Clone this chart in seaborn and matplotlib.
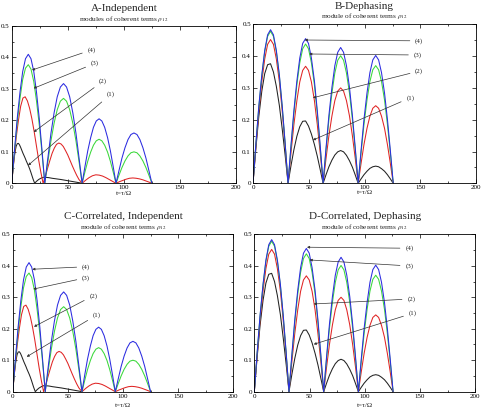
import numpy as np
import pandas as pd
import seaborn as sns
import matplotlib
matplotlib.use("Agg")
import matplotlib.pyplot as plt
from matplotlib.ticker import MultipleLocator, FuncFormatter

# ---------------- data ----------------
# Independent case (panels A and C)
t_ind = [0, 2.5, 4.9, 7.4, 9.8, 12.3, 14.8, 17.2, 19.7, 22.1, 24.6, 27.0, 29.5,
         32.3, 35.0, 37.8, 40.6, 43.4, 46.2, 48.9, 51.7, 54.5, 57.3, 60.0, 62.8,
         65.3, 67.8, 70.4, 72.9, 75.4, 77.9, 80.4, 82.9, 85.5, 88.0, 90.5, 93.0,
         95.7, 98.3, 101.0, 103.7, 106.3, 109.0, 111.7, 114.3, 117.0, 119.7, 122.3, 125.0]
ind_4 = [0, .106, .205, .29, .355, .396, .41, .396, .355, .29, .205, .106, 0,
         .082, .159, .224, .275, .306, .317, .306, .275, .224, .159, .082, 0,
         .053, .103, .145, .178, .198, .205, .198, .178, .145, .103, .053, 0,
         .041, .08, .113, .139, .155, .16, .155, .139, .113, .08, .041, 0]
ind_3 = [0, .1, .192, .27, .33, .366, .377, .363, .323, .262, .185, .097, 0,
         .070, .135, .191, .234, .261, .27, .261, .234, .191, .135, .070, 0,
         .036, .07, .099, .121, .135, .14, .135, .121, .099, .07, .036, 0,
         .026, .05, .071, .087, .097, .10, .097, .087, .071, .05, .026, 0]
t_ind_2 = [0, 2, 4, 6, 8, 10, 12, 14, 16, 18, 20, 22, 24, 26, 28,
           30, 32, 34, 36, 38, 40, 42, 44, 46, 48, 50, 52, 54, 56, 58, 60, 62.8,
           66, 69, 72, 75, 78, 81, 84, 87, 90, 93,
           96, 99, 102, 105, 108, 111, 114, 117, 120, 123, 125]
ind_2 = [0, .075, .145, .2, .245, .271, .275, .262, .238, .205, .165, .12, .075, .035, 0,
         .022, .048, .072, .095, .112, .124, .128, .125, .117, .104, .09, .073, .056, .04, .025, .012, 0,
         .01, .018, .024, .027, .026, .023, .018, .012, .006, 0,
         .005, .009, .013, .016, .017, .016, .014, .011, .007, .003, 0]
t_ind_1 = [0, 1, 2, 3, 4, 5, 6, 7, 8, 9, 10, 11, 12, 13, 14, 15, 16, 17, 18, 19, 20.5,
           22, 24, 26, 28, 30, 33, 36, 40, 44, 48, 52, 56, 60, 62.8]
ind_1 = [0, .04, .075, .1, .118, .126, .127, .122, .114, .105, .096, .088, .08, .071, .063,
         .055, .046, .036, .025, .014, 0,
         .006, .012, .016, .019, .019, .018, .016, .014, .012, .0095, .007, .0045, .002, 0]

# Dephasing case (panels B and D)
t_deph = [0, 2.6, 5.2, 7.9, 10.5, 13.1, 15.7, 18.3, 20.9, 23.6, 26.2, 28.8, 31.4,
          34.0, 36.6, 39.3, 41.9, 44.5, 47.1, 49.7, 52.3, 55.0, 57.6, 60.2, 62.8,
          65.4, 68.0, 70.7, 73.3, 75.9, 78.5, 81.1, 83.7, 86.4, 89.0, 91.6, 94.2,
          96.8, 99.4, 102.1, 104.7, 107.3, 109.9, 112.5, 115.1, 117.8, 120.4, 123.0, 125.6]
deph_4 = [0, .125, .242, .341, .418, .467, .483, .467, .418, .341, .242, .125, 0,
          .118, .228, .322, .394, .440, .455, .440, .394, .322, .228, .118, 0,
          .111, .214, .302, .370, .412, .427, .412, .370, .302, .214, .111, 0,
          .104, .201, .284, .348, .388, .402, .388, .348, .284, .201, .104, 0]
deph_3 = [0, .124, .239, .338, .414, .462, .478, .462, .414, .338, .239, .124, 0,
          .113, .219, .310, .379, .423, .438, .423, .379, .310, .219, .113, 0,
          .104, .201, .284, .347, .387, .401, .387, .347, .284, .201, .104, 0,
          .096, .185, .262, .320, .357, .370, .357, .320, .262, .185, .096, 0]
deph_2 = [0, .117, .226, .320, .391, .437, .452, .437, .391, .320, .226, .117, 0,
          .095, .184, .260, .319, .355, .368, .355, .319, .260, .184, .095, 0,
          .078, .150, .212, .260, .290, .300, .290, .260, .212, .150, .078, 0,
          .063, .122, .173, .211, .236, .244, .236, .211, .173, .122, .063, 0]
deph_1 = [0, .11, .21, .29, .345, .373, .376, .35, .305, .245, .17, .088, 0,
          .055, .105, .148, .178, .195, .196, .18, .155, .122, .085, .043, 0,
          .027, .052, .073, .089, .099, .103, .099, .088, .071, .051, .026, 0,
          .014, .027, .038, .047, .052, .054, .052, .046, .038, .027, .014, 0]

titles = ["A-Independent", "B-Dephasing", "C-Correlated, Independent", "D-Correlated, Dephasing"]
subtitles = ["modules of coherent terms $\\rho_{12}$", "module of coherent terms $\\rho_{12}$",
             "module of coherent terms $\\rho_{12}$", "module of coherent terms $\\rho_{12}$"]
curve_labels = ["(1)", "(2)", "(3)", "(4)"]
xlabel = "t=τ/Ω"
xticks = [0, 50, 100, 150, 200]
yticks = [0, 0.1, 0.2, 0.3, 0.4, 0.5]

# label text positions and arrow targets for curves (1)..(4), per panel
ann_text = [
    [(88.1, 0.2825), (81.5, 0.325), (74.1, 0.381), (71.2, 0.424)],
    [(140.9, 0.269), (148.9, 0.353), (147.5, 0.4035), (148.9, 0.448)],
    [(76.2, 0.2437), (73.1, 0.305), (66.5, 0.362), (66.5, 0.397)],
    [(143.3, 0.249), (142.1, 0.2946), (140.3, 0.3994), (140.3, 0.4557)],
]
ann_tip = [
    [(14.6, 0.057), (19.6, 0.163), (19.6, 0.302), (18.1, 0.36)],
    [(53.7, 0.136), (53.7, 0.269), (50.4, 0.4066), (46.3, 0.4506)],
    [(12.7, 0.111), (19.3, 0.2065), (18.7, 0.326), (17.8, 0.389)],
    [(53.8, 0.1506), (53.8, 0.2787), (50.1, 0.4185), (47.7, 0.459)],
]

# ---------------- build tables ----------------
def make_df(series):
    rows = []
    for name, (t, y) in series.items():
        for a, b in zip(t, y):
            rows.append({"t": a, "rho": b, "curve": name})
    return pd.DataFrame(rows)

df_ind = make_df({"(1)": (t_ind_1, ind_1), "(2)": (t_ind_2, ind_2),
                  "(3)": (t_ind, ind_3), "(4)": (t_ind, ind_4)})
df_deph = make_df({"(1)": (t_deph, deph_1), "(2)": (t_deph, deph_2),
                   "(3)": (t_deph, deph_3), "(4)": (t_deph, deph_4)})
panel_data = [df_ind, df_deph, df_ind, df_deph]

palette = {"(1)": "#222222", "(2)": "#e02424", "(3)": "#3ad83a", "(4)": "#2b2be0"}

# ---------------- style ----------------
sns.set_style("ticks")
plt.rcParams["font.family"] = ["Liberation Serif", "DejaVu Serif"]
plt.rcParams["mathtext.fontset"] = "stix"

W, H = 484, 411
fig = plt.figure(figsize=(W / 100, H / 100), dpi=100)
fig.patch.set_facecolor("white")

# axes boxes in pixels: left, right, top, bottom
boxes = [(11.7, 236.0, 26.0, 183.3), (253.0, 476.3, 24.3, 183.3),
         (12.7, 233.3, 234.3, 391.7), (254.3, 475.3, 234.3, 391.7)]
title_y = [8.3, 6.5, 216.0, 216.0]
sub_y = [19.0, 16.0, 226.7, 226.7]
xlab_y = [193.3, 192.7, 405.7, 405.0]

fmt = FuncFormatter(lambda v, p: "0" if abs(v) < 1e-9 else (f"{v:.1f}" if v < 1 else f"{v:g}"))
fmtx = FuncFormatter(lambda v, p: f"{v:g}")

for i in range(4):
    l, r, tp, b = boxes[i]
    ax = fig.add_axes([l / W, 1 - b / H, (r - l) / W, (b - tp) / H])
    sns.lineplot(data=panel_data[i], x="t", y="rho", hue="curve", palette=palette,
                 hue_order=["(1)", "(2)", "(3)", "(4)"], estimator=None, sort=False,
                 linewidth=0.75, legend=False, ax=ax)
    ax.set_xlim(0, 200)
    ax.set_ylim(0, 0.5)
    ax.set_xticks(xticks)
    ax.set_yticks(yticks)
    ax.xaxis.set_minor_locator(MultipleLocator(25))
    ax.yaxis.set_minor_locator(MultipleLocator(0.05))
    ax.yaxis.set_major_formatter(fmt)
    ax.xaxis.set_major_formatter(fmtx)
    ax.tick_params(which="both", direction="in", top=True, right=True, width=0.5,
                   labelsize=5.0, pad=1.5, colors="black")
    ax.tick_params(which="major", length=3)
    ax.tick_params(which="minor", length=1.6)
    for s in ax.spines.values():
        s.set_linewidth(0.6)
        s.set_color("black")
    ax.set_xlabel("")
    ax.set_ylabel("")
    cx = (l + r) / 2
    fig.text(cx / W, 1 - title_y[i] / H, titles[i], ha="center", va="center", fontsize=8.0)
    fig.text(cx / W, 1 - sub_y[i] / H, subtitles[i], ha="center", va="center", fontsize=5.2)
    fig.text(cx / W, 1 - xlab_y[i] / H, xlabel, ha="center", va="center", fontsize=5.0)
    for k in range(4):
        ax.annotate(curve_labels[k], xy=ann_tip[i][k], xytext=ann_text[i][k],
                    ha="center", va="center", fontsize=5.0,
                    arrowprops=dict(arrowstyle="-|>", color="#333333", lw=0.5,
                                    mutation_scale=3.5, shrinkA=1.5, shrinkB=0))

fig.savefig("out.png", dpi=100, facecolor="white")
